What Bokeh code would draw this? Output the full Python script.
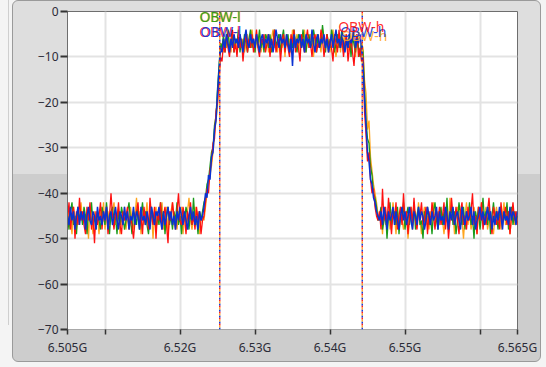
import numpy as np
from bokeh.plotting import figure
from bokeh.models import (ColumnDataSource, FixedTicker, Span, Label,
                          InlineStyleSheet, CustomJSTickFormatter)
from bokeh.embed import file_html
from bokeh.resources import INLINE

# Frequency span of the analyser (GHz); traces sampled every 0.2 MHz
freq_start = 6.505
freq_stop = 6.565

# Power levels (dB) of the four traces, one value per frequency point
trace_red = [
    # noise floor below the channel
    -46, -42, -48, -45, -43, -50, -44, -47, -41, -46,
    -44, -47, -49, -43, -46, -42, -48, -45, -51, -44,
    -47, -45, -42, -48, -44, -46, -43, -49, -45, -40,
    -45, -48, -44, -46, -42, -47, -49, -44, -46, -45,
    -43, -48, -45, -47, -50, -46, -44, -42, -47, -45,
    -49, -43, -46, -44, -48, -41, -45, -47, -43, -50,
    -44, -46, -42, -48, -45, -43, -47, -51, -44, -46,
    -42, -45, -48, -44, -40, -46, -47, -43, -45, -49,
    -44, -46, -42, -47, -45, -48, -43, -46, -44, -49,
    -46,
    # lower skirt
    -45, -42, -39, -40, -35, -33, -29, -28, -22, -20, -15, -10,
    # channel
    -11, -7, -9, -5, -8, -10, -6, -4, -9, -7,
    -10, -5, -8, -6, -11, -7, -5, -9, -6, -8,
    -5, -9, -7, -4, -8, -10, -6, -7, -5, -9,
    -7, -5, -10, -6, -8, -4, -9, -7, -6, -11,
    -7, -5, -9, -6, -8, -10, -5, -7, -4, -9,
    -6, -8, -11, -5, -7, -9, -6, -4, -8, -7,
    -10, -6, -5, -9, -7, -8, -4, -6, -10, -7,
    -5, -9, -6, -8, -11, -5, -7, -9, -4, -8,
    -6, -10, -7, -5, -11, -8, -6, -9, -12, -7,
    -5, -10, -8, -11,
    # upper skirt
    -10, -22, -27, -33, -31, -37, -40, -39, -43, -45, -46,
    # noise floor above the channel
    -44, -48, -39, -46, -43, -47, -41, -45, -49, -44,
    -46, -42, -48, -45, -43, -47, -40, -46, -44, -49,
    -45, -43, -47, -41, -46, -48, -44, -45, -42, -47,
    -46, -43, -49, -44, -47, -42, -45, -48, -44, -46,
    -43, -47, -45, -42, -48, -44, -50, -46, -41, -45,
    -47, -43, -46, -49, -44, -42, -47, -45, -48, -43,
    -46, -44, -40, -47, -45, -49, -43, -46, -42, -48,
    -45, -47, -44, -41, -46, -49, -43, -45, -47, -44,
    -48, -42, -46, -45, -43, -47, -44, -49, -45, -42,
    -46, -44, -47,
]
trace_green = [
    -45, -48, -44, -42, -47, -45, -49, -43, -46, -44,
    -47, -43, -45, -49, -44, -46, -42, -47, -45, -48,
    -44, -46, -48, -43, -45, -47, -42, -46, -49, -44,
    -43, -46, -45, -49, -44, -47, -43, -45, -48, -46,
    -44, -42, -46, -49, -44, -45, -47, -43, -48, -45,
    -42, -46, -44, -47, -49, -45, -43, -46, -44, -48,
    -45, -47, -42, -46, -44, -49, -45, -43, -47, -45,
    -48, -44, -46, -42, -47, -45, -49, -44, -46, -43,
    -45, -48, -44, -47, -41, -46, -45, -49, -44, -46,
    -44,
    -42, -41, -38, -37, -34, -31, -30, -25, -23, -17, -12, -7,
    -8, -5, -9, -6, -4, -8, -7, -5, -9, -6,
    -7, -4, -9, -6, -8, -5, -7, -9, -6, -4,
    -8, -6, -9, -5, -7, -4, -8, -6, -9, -5,
    -6, -8, -5, -9, -7, -4, -8, -6, -5, -9,
    -6, -4, -8, -7, -5, -9, -6, -8, -4, -7,
    -9, -5, -6, -8, -4, -7, -9, -6, -5, -8,
    -7, -4, -6, -9, -5, -8, -7, -3, -6, -9,
    -5, -7, -8, -4, -6, -9, -7, -5, -8, -6,
    -4, -9, -7, -6, -8, -5, -10, -6, -7, -9,
    -5, -8, -10, -7,
    -9, -17, -24, -28, -29, -34, -36, -40, -41, -43, -46,
    -45, -43, -48, -46, -44, -50, -45, -42, -47, -45,
    -44, -47, -43, -49, -45, -46, -42, -48, -45, -43,
    -47, -44, -46, -42, -48, -45, -43, -47, -46, -50,
    -44, -46, -43, -47, -45, -49, -44, -42, -46, -48,
    -45, -43, -47, -44, -46, -41, -48, -45, -43, -47,
    -44, -49, -46, -42, -45, -47, -43, -48, -44, -46,
    -42, -47, -45, -50, -44, -46, -43, -48, -45, -41,
    -46, -44, -47, -43, -49, -45, -42, -46, -44, -48,
    -45, -43, -47, -44, -46, -42, -48, -45, -43, -47,
    -44, -46, -45,
]
trace_orange = [
    -47, -44, -46, -49, -43, -45, -48, -44, -46, -42,
    -46, -44, -48, -45, -50, -43, -46, -49, -44, -46,
    -45, -49, -44, -46, -42, -48, -45, -44, -47, -46,
    -44, -42, -47, -45, -43, -49, -45, -47, -43, -48,
    -45, -47, -43, -46, -48, -45, -41, -46, -44, -49,
    -43, -47, -45, -42, -48, -46, -44, -50, -45, -43,
    -47, -44, -46, -42, -48, -45, -43, -49, -46, -44,
    -42, -47, -45, -48, -44, -46, -43, -49, -45, -47,
    -44, -41, -46, -48, -45, -43, -47, -44, -49, -46,
    -45,
    -46, -43, -40, -38, -36, -34, -31, -27, -24, -21, -14, -9,
    -7, -9, -6, -8, -5, -7, -9, -5, -8, -6,
    -9, -7, -5, -8, -6, -9, -7, -5, -8, -6,
    -4, -7, -9, -6, -8, -5, -9, -7, -6, -8,
    -5, -9, -7, -6, -4, -8, -7, -9, -5, -6,
    -8, -6, -10, -5, -7, -6, -9, -4, -8, -7,
    -5, -9, -6, -8, -7, -4, -9, -6, -8, -5,
    -7, -10, -6, -5, -8, -7, -9, -4, -6, -8,
    -5, -7, -9, -6, -4, -8, -10, -7, -5, -9,
    -6, -8, -5, -7, -9, -6, -8, -4, -7, -10,
    -6, -8, -9, -7,
    -8, -15, -18, -26, -24, -32, -35, -38, -40, -42, -45,
    -46, -44, -49, -43, -47, -45, -44, -48, -46, -42,
    -45, -49, -44, -47, -43, -46, -48, -45, -44, -50,
    -46, -43, -48, -45, -44, -47, -42, -46, -49, -45,
    -43, -47, -45, -48, -44, -46, -42, -47, -45, -44,
    -47, -44, -46, -49, -45, -43, -48, -41, -46, -44,
    -49, -45, -43, -47, -44, -46, -50, -45, -42, -47,
    -44, -48, -46, -43, -45, -49, -44, -47, -42, -46,
    -45, -43, -48, -46, -44, -47, -49, -45, -43, -46,
    -44, -48, -45, -42, -47, -46, -44, -49, -45, -43,
    -47, -44, -46,
]
trace_blue = [
    -45, -47, -43, -46, -44, -48, -45, -43, -47, -44,
    -46, -44, -48, -45, -43, -46, -47, -44, -45, -48,
    -43, -46, -45, -47, -44, -46, -43, -48, -45, -44,
    -47, -45, -43, -46, -48, -44, -45, -47, -43, -46,
    -44, -48, -45, -46, -43, -47, -44, -45, -48, -43,
    -46, -45, -47, -44, -46, -48, -43, -45, -47, -44,
    -45, -43, -46, -48, -44, -47, -45, -43, -46, -44,
    -47, -45, -48, -44, -46, -43, -45, -47, -44, -46,
    -48, -45, -43, -46, -44, -47, -45, -48, -44, -46,
    -45,
    -43, -40, -41, -36, -37, -32, -31, -26, -24, -18, -13, -8,
    -9, -6, -8, -5, -7, -9, -6, -8, -5, -7,
    -6, -8, -5, -7, -9, -6, -4, -7, -8, -5,
    -7, -6, -8, -5, -7, -9, -6, -5, -8, -6,
    -7, -5, -8, -6, -9, -7, -4, -6, -8, -5,
    -7, -6, -8, -5, -7, -9, -6, -12, -5, -8,
    -6, -7, -5, -8, -6, -9, -5, -7, -6, -8,
    -4, -7, -9, -6, -5, -8, -6, -7, -5, -8,
    -6, -9, -7, -5, -8, -6, -4, -7, -6, -8,
    -5, -7, -9, -6, -8, -5, -7, -6, -4, -8,
    -6, -7, -5, -8,
    -12, -19, -25, -31, -33, -37, -38, -41, -42, -44, -45,
    -46, -44, -47, -43, -45, -48, -44, -46, -45, -43,
    -47, -44, -46, -48, -45, -43, -46, -44, -47, -45,
    -43, -46, -48, -44, -45, -47, -43, -46, -44, -45,
    -48, -46, -43, -45, -47, -44, -46, -45, -43, -48,
    -44, -46, -45, -47, -43, -45, -48, -44, -46, -43,
    -47, -45, -44, -46, -48, -43, -45, -47, -44, -46,
    -45, -43, -47, -44, -48, -46, -45, -43, -46, -44,
    -47, -45, -43, -46, -44, -48, -45, -47, -44, -46,
    -43, -45, -48, -44, -46, -45, -47, -43, -46, -44,
    -45, -47, -44,
]

freq = np.linspace(freq_start, freq_stop, len(trace_blue))

# Occupied-bandwidth cursor positions (GHz)
obw_low = 6.5253
obw_high = 6.5443

# Axis ticks
x_ticks = [6.505, 6.51, 6.52, 6.53, 6.54, 6.55, 6.56, 6.565]
x_tick_labels = ["6.505G", "", "6.52G", "6.53G", "6.54G", "6.55G", "", "6.565G"]
y_ticks = [0, -10, -20, -30, -40, -50, -60, -70]

RED = "#ff1010"
GREEN = "#1a9a1a"
ORANGE = "#ffa51e"
BLUE = "#0a32d2"
FONT = "Noto Sans"

p = figure(width=546, height=367, output_backend="svg", toolbar_location=None,
           x_range=(freq_start, freq_stop), y_range=(-70, 0),
           min_border_left=67, min_border_right=29,
           min_border_top=11, min_border_bottom=38)

p.border_fill_alpha = 0
p.background_fill_color = "white"
p.outline_line_color = "#6e6e6e"
p.outline_line_width = 1

# Panel look behind the plot: two-tone grey with a rounded frame
p.stylesheets.append(InlineStyleSheet(css="""
:host { position: relative; z-index: 0; background: #f4f4f4; }
:host::before {
  content: ""; position: absolute; left: 12px; top: 0px;
  width: 529px; height: 362px; box-sizing: border-box;
  border: 1px solid #9a9a9a; border-radius: 6px;
  background: linear-gradient(to bottom, #dedede 0px, #dedede 173px, #cdcdcd 173px, #cdcdcd 100%);
  z-index: -1;
}
:host::after {
  content: ""; position: absolute; left: 8px; top: 0px;
  width: 1px; height: 325px; background: #cfcfcf; z-index: -1;
}
"""))

# Grid
p.grid.grid_line_color = "#e3e3e3"
p.grid.grid_line_width = 2

# Axes
p.xaxis.ticker = FixedTicker(ticks=x_ticks)
p.xaxis.formatter = CustomJSTickFormatter(
    args=dict(tick_values=x_ticks, tick_texts=x_tick_labels),
    code="""
    for (let i = 0; i < tick_values.length; i++) {
        if (Math.abs(tick_values[i] - tick) < 1e-7) return tick_texts[i];
    }
    return "";
    """)
p.yaxis.ticker = FixedTicker(ticks=y_ticks)
p.axis.major_label_text_font = FONT
p.axis.major_label_text_font_size = "12px"
p.axis.major_label_text_color = "#2b2b38"
p.axis.major_tick_line_color = "#333333"
p.axis.major_tick_line_width = 1.5
p.axis.major_tick_in = 0
p.axis.minor_tick_line_color = None
p.yaxis.major_tick_out = 7
p.yaxis.major_tick_line_width = 2
p.xaxis.major_tick_out = 5
p.yaxis.axis_line_color = "#6e6e6e"
p.xaxis.axis_line_color = "#a8a8a8"
p.yaxis.major_label_standoff = 2
p.xaxis.major_label_standoff = 4

# Spectrum traces (blue drawn last, on top)
src = ColumnDataSource(dict(f=freq, r=trace_red, g=trace_green,
                            o=trace_orange, b=trace_blue))
p.line("f", "o", source=src, color=ORANGE, line_width=1.3)
p.line("f", "g", source=src, color=GREEN, line_width=1.3)
p.line("f", "r", source=src, color=RED, line_width=1.3)
p.line("f", "b", source=src, color=BLUE, line_width=1.5)

# Dashed OBW cursors, one dash colour per trace
for loc in (obw_low, obw_high):
    for col, off in ((RED, 0), (BLUE, 2), (ORANGE, 4)):
        p.add_layout(Span(location=loc, dimension="height", line_color=col,
                          line_width=1.4, line_dash="2 4", line_dash_offset=off))

# Cursor labels
def cursor_label(x, y, text, color, dx=0):
    p.add_layout(Label(x=x, y=y, text=text, text_color=color,
                       text_font=FONT, text_font_size="14px",
                       text_align="center", text_baseline="middle",
                       x_offset=dx, text_alpha=0.9))

cursor_label(obw_low, -1.1, "OBW-l", ORANGE, 1)
cursor_label(obw_low, -1.1, "OBW-l", GREEN)
cursor_label(obw_low, -4.3, "OBW-l", RED)
cursor_label(obw_low, -4.3, "OBW-l", BLUE, 1)
cursor_label(obw_high, -5.3, "OBW-h", ORANGE, 2)
cursor_label(obw_high, -4.3, "OBW-h", BLUE, 1)
cursor_label(obw_high, -3.2, "OBW-h", RED, -1)

open("out.html", "w").write(file_html(p, INLINE))
